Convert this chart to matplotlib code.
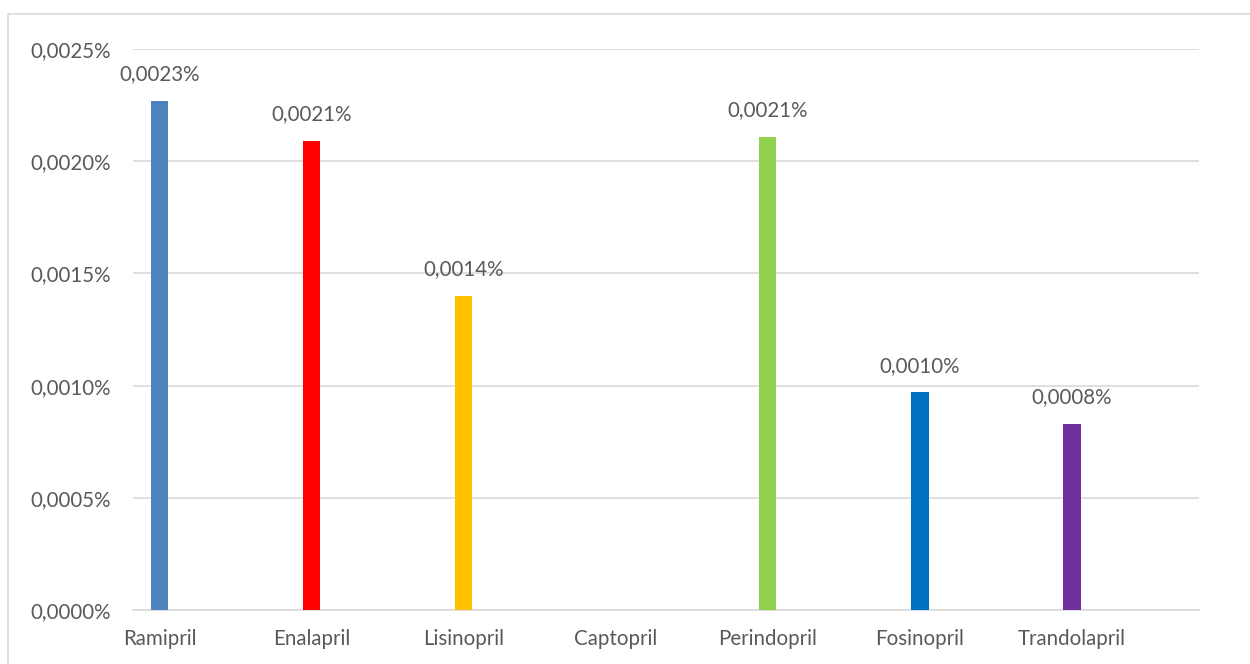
import matplotlib
matplotlib.use("Agg")
import matplotlib.pyplot as plt
from matplotlib.patches import Rectangle

categories = ["Ramipril", "Enalapril", "Lisinopril", "Captopril", "Perindopril", "Fosinopril", "Trandolapril"]
values = [0.00227, 0.00209, 0.00140, 0.0, 0.00211, 0.00097, 0.00083]  # percent
colors = ["#4F81BD", "#FF0000", "#FFC000", "#FFFFFF", "#92D050", "#0070C0", "#7030A0"]
yticks = [0.0, 0.0005, 0.0010, 0.0015, 0.0020, 0.0025]

plt.rcParams['font.family'] = ['Lato', 'DejaVu Sans']
txt = "#595959"
fs = 14.8

W, H = 1250, 664
fig = plt.figure(figsize=(W / 100, H / 100), dpi=100)
fig.patches.append(Rectangle((8 / W, -0.05), 1.1, (H - 14) / H + 0.05, transform=fig.transFigure,
                             fill=False, edgecolor="#D9D9D9", linewidth=1.2))

x0, x1 = 133, 1199
y0, y1 = 610, 49
ax = fig.add_axes([x0 / W, 1 - y0 / H, (x1 - x0) / W, (y0 - y1) / H])

xs = list(range(len(categories)))
ax.bar(xs, values, width=0.115, color=colors, zorder=3)
ax.set_xlim(-0.174, 6.836)
ax.set_ylim(0, 0.0025)
ax.set_yticks(yticks)
ax.set_yticklabels([f"{v:.4f}".replace(".", ",") + "%" for v in yticks], fontsize=fs, color=txt)
ax.set_xticks(xs)
ax.set_xticklabels(categories, fontsize=fs, color=txt)
ax.tick_params(axis='y', length=0, pad=16)
ax.tick_params(axis='x', length=0, pad=14)
ax.grid(axis='y', color="#D9D9D9", linewidth=1.2, zorder=0)
for s in ax.spines.values():
    s.set_visible(False)
ax.spines['bottom'].set_visible(True)
ax.spines['bottom'].set_color("#D9D9D9")
ax.spines['bottom'].set_linewidth(1.2)

for x, v in zip(xs, values):
    if v > 0:
        ax.annotate(f"{v:.4f}".replace(".", ",") + "%", (x, v), xytext=(0, 12),
                    textcoords="offset points", ha="center", va="bottom",
                    fontsize=fs, color=txt, annotation_clip=False)

fig.savefig("out.png", dpi=100)
